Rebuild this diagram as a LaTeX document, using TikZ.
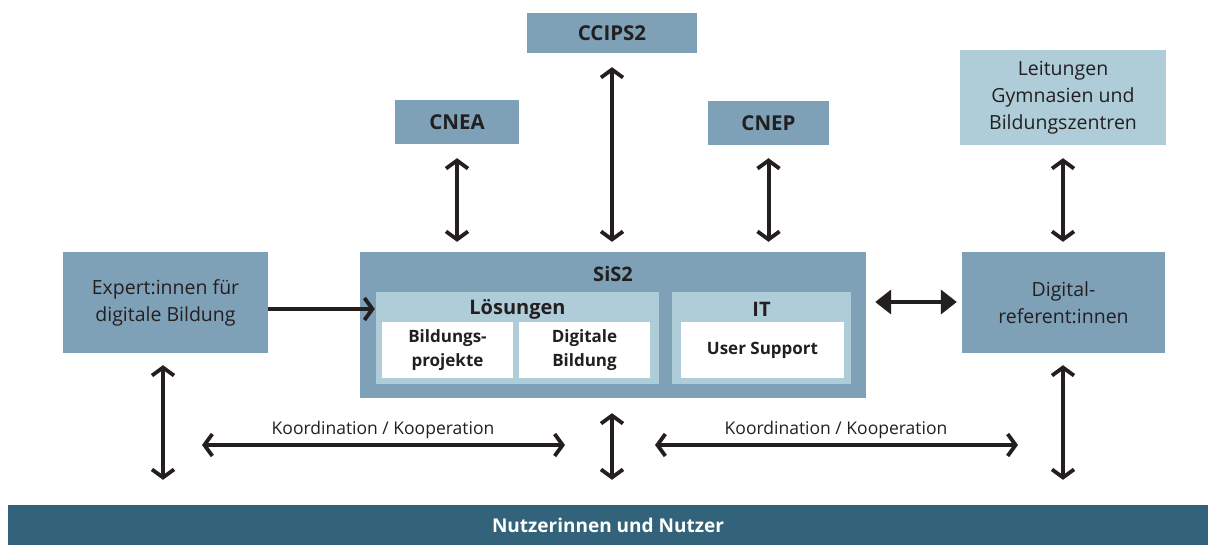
\documentclass[tikz,border=0pt]{standalone}
\usepackage{fontspec}
\setmainfont{Open Sans}
\usetikzlibrary{arrows.meta}
\definecolor{midblue}{HTML}{7FA1B8}
\definecolor{lightblue}{HTML}{AECDD8}
\definecolor{darkblue}{HTML}{33637A}
\definecolor{ink}{HTML}{231F20}
\tikzset{
  box/.style={inner sep=0pt, align=center, text=ink, font=\fontsize{19.5}{27}\selectfont},
  midbox/.style={box, fill=midblue},
  lightbox/.style={box, fill=lightblue},
  whitebox/.style={box, fill=white, font=\bfseries\fontsize{17}{24}\selectfont},
  boldlbl/.style={text=ink, font=\bfseries\fontsize{20}{22}\selectfont, inner sep=0pt},
  toplbl/.style={font=\bfseries\fontsize{20.5}{22}\selectfont},
  dbl/.style={draw=ink, line width=4pt, {Straight Barb[length=8pt,width=22pt,line width=3.8pt]}-{Straight Barb[length=8pt,width=22pt,line width=3.8pt]}},
  sgl/.style={draw=ink, line width=4pt, -{Straight Barb[length=8pt,width=22pt,line width=3.8pt]}},
  tri/.style={draw=ink, line width=4pt, {Triangle[length=16pt,width=24pt]}-{Triangle[length=16pt,width=24pt]}},
  lbl/.style={text=ink, font=\fontsize{17.5}{20}\selectfont, inner sep=0pt}
}
\begin{document}
\begin{tikzpicture}[x=1pt,y=-1pt]
\useasboundingbox (0,0) rectangle (1208,545);
% top boxes
\node[midbox, toplbl, minimum width=170pt, minimum height=40pt] (ccips) at (612,33) {CCIPS2};
\node[midbox, toplbl, minimum width=124pt, minimum height=44pt] (cnea) at (457,122) {CNEA};
\node[midbox, toplbl, minimum width=121pt, minimum height=44pt] (cnep) at (768.5,123) {CNEP};
\node[lightbox, minimum width=206pt, minimum height=95pt] (leit) at (1063,97.5) {Leitungen\\Gymnasien und\\Bildungszentren};
% middle row
\node[midbox, minimum width=205pt, minimum height=101pt] (exp) at (165.5,302.5) {Expert:innen für\\digitale Bildung};
\node[midbox, minimum width=203pt, minimum height=101pt] (dig) at (1063.5,302.5) {Digital-\\referent:innen};
\node[midbox, minimum width=506pt, minimum height=146pt] (sis) at (613,325) {};
\node[boldlbl] (sislbl) at (613,274) {SiS2};
\node[lightbox, minimum width=283pt, minimum height=92pt] (loes) at (517.5,338) {};
\node[boldlbl] (loeslbl) at (517.5,309) {Lösungen};
\node[lightbox, minimum width=179pt, minimum height=92pt] (it) at (761.5,338) {};
\node[boldlbl] (itlbl) at (761.5,309) {IT};
\node[whitebox, minimum width=131pt, minimum height=56pt] (bild) at (447.5,350) {Bildungs-\\projekte};
\node[whitebox, minimum width=131pt, minimum height=56pt] (digb) at (584.5,350) {Digitale\\Bildung};
\node[whitebox, minimum width=163pt, minimum height=56pt] (user) at (762.5,350) {User Support};
% bottom bar
\node[fill=darkblue, minimum width=1200pt, minimum height=40pt, inner sep=0pt, text=white, font=\bfseries\fontsize{19}{22}\selectfont] (nutzer) at (608,525) {Nutzerinnen und Nutzer};
% vertical arrows top
\draw[dbl, shorten <=14pt, shorten >=10pt] (cnea.south) -- (cnea.south |- sis.north);
\draw[dbl, shorten <=14pt, shorten >=10pt] (ccips.south) -- (ccips.south |- sis.north);
\draw[dbl, shorten <=13pt, shorten >=10pt] (cnep.south) -- (cnep.south |- sis.north);
\draw[dbl, shorten <=13pt, shorten >=10pt] (leit.south) -- (leit.south |- dig.north);
% horizontal arrows
\draw[sgl, shorten >=1pt] ([yshift=-6.5pt]exp.east) -- ([yshift=-6.5pt]exp.east -| loes.west);
\draw[tri, shorten <=9pt, shorten >=5pt] ([yshift=23pt]sis.east) -- ([yshift=23pt]sis.east -| dig.west);
% vertical arrows bottom
\draw[dbl, shorten <=12pt, shorten >=25pt] ([xshift=-2.5pt]exp.south) -- ([xshift=-2.5pt]exp.south |- nutzer.north);
\draw[dbl, shorten <=15pt, shorten >=25pt] ([xshift=-1pt]sis.south) -- ([xshift=-1pt]sis.south |- nutzer.north);
\draw[dbl, shorten <=12pt, shorten >=25pt] ([xshift=-0.5pt]dig.south) -- ([xshift=-0.5pt]dig.south |- nutzer.north);
% Koordination arrows
\coordinate (k1a) at (202,445);
\coordinate (k1b) at (565,445);
\coordinate (k2a) at (655,445);
\coordinate (k2b) at (1018,445);
\draw[dbl] (k1a) -- (k1b);
\draw[dbl] (k2a) -- (k2b);
\node[lbl] (kl1) at (383,430) {Koordination / Kooperation};
\node[lbl] (kl2) at (836,430) {Koordination / Kooperation};
\end{tikzpicture}
\end{document}
